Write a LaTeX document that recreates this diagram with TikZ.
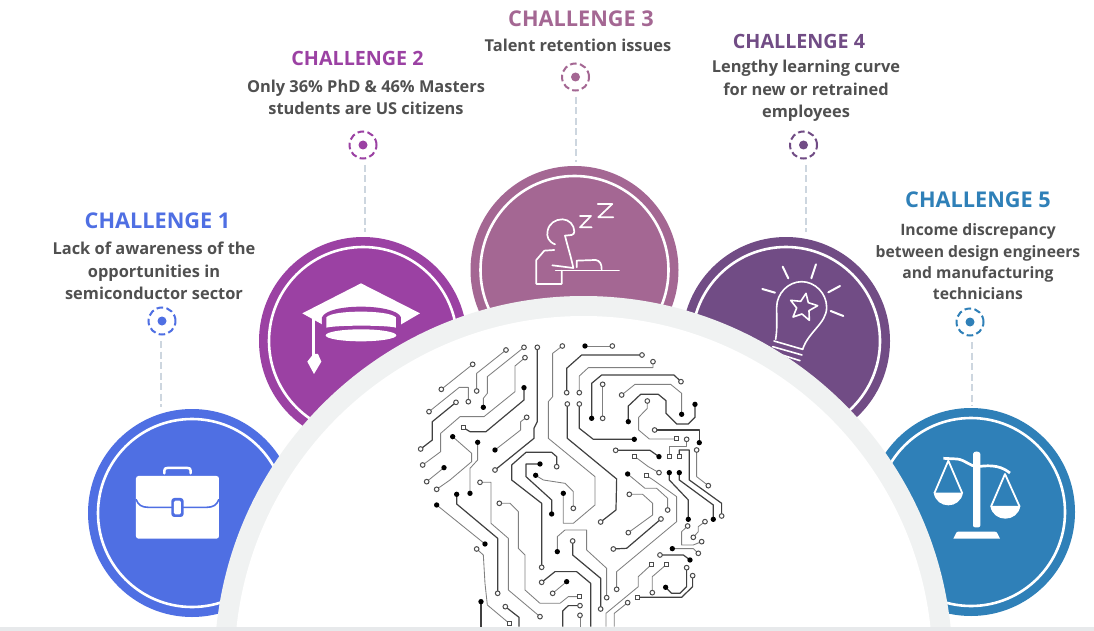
\documentclass[tikz,border=0pt]{standalone}
\usepackage{fontspec}
\setmainfont{Open Sans}
\definecolor{cA}{HTML}{4F6FE3}
\definecolor{cB}{HTML}{9B41A3}
\definecolor{cC}{HTML}{A46793}
\definecolor{cD}{HTML}{714C85}
\definecolor{cE}{HTML}{2F80B8}
\definecolor{halo}{HTML}{F0F2F2}
\definecolor{strip}{HTML}{E7E9EB}
\definecolor{dashc}{HTML}{CDD6DF}
\definecolor{bodyc}{HTML}{505050}
\tikzset{
  bigc/.style={circle,fill=#1,minimum size=208pt,inner sep=0pt},
  ringc/.style={circle,draw=white,line width=2.6pt,minimum size=188pt,inner sep=0pt},
  target/.style={circle,draw=#1,dash pattern=on 6.6pt off 3.4pt,line width=2pt,minimum size=27pt,inner sep=0pt},
  tdot/.style={circle,fill=#1,minimum size=9pt,inner sep=0pt},
  conn/.style={draw=dashc,line width=2pt,dash pattern=on 7pt off 3.5pt},
  title/.style={text=#1,font=\fontsize{21.7}{24}\selectfont\bfseries,inner sep=0pt,anchor=center},
  titlesm/.style={text=#1,font=\fontsize{19.7}{24}\selectfont\bfseries,inner sep=0pt,anchor=center},
  body/.style={text=bodyc,font=\fontsize{16.4}{22.5}\selectfont\bfseries,inner sep=0pt,align=center,anchor=center},
  tg/.style={draw=black!50,line width=0.85pt,line join=round},
  td/.style={draw=black!75,line width=1.2pt,line join=round},
  opad/.style={draw=black!70,fill=white,line width=1pt},
  bpad/.style={fill=black},
  ico/.style={draw=white,line width=#1,line cap=round,line join=round},
  ico/.default=1.7pt,
}
\begin{document}
\begin{tikzpicture}[x=1pt,y=-1pt]
\useasboundingbox (0,0) rectangle (1094,631);
\fill[white] (0,0) rectangle (1094,631);

% big coloured circles
\node[bigc=cA] (c1) at (192,513) {};
\node[bigc=cB] (c2) at (363,341) {};
\node[bigc=cC] (c3) at (574.5,270) {};
\node[bigc=cD] (c4) at (786,341) {};
\node[bigc=cE] (c5) at (971,512) {};
\foreach \n in {1,...,5} \node[ringc] (r\n) at (c\n) {};

% briefcase
\begin{scope}[shift={(80,400)},x=0.3333pt,y=-0.3333pt]
  \draw[ico=2.5pt] (253,220) -- (253,212) .. controls (253,206) and (256,204) .. (262,204) -- (323,204) .. controls (329,204) and (332,206) .. (332,212) -- (332,220);
  \fill[white,rounded corners=2.5pt] (168,228) rectangle (417,416);
  \draw[cA,line width=1.6pt] (168,298) .. controls (175,315) and (185,322) .. (205,322) -- (380,322) .. controls (400,322) and (410,315) .. (417,298);
  \fill[cA,rounded corners=3pt] (274,294) rectangle (311,351);
  \fill[white,rounded corners=1.5pt] (282,302) rectangle (303,343);
\end{scope}

% mortarboard
\begin{scope}[shift={(250,230)},x=0.3333pt,y=-0.3333pt]
  \fill[white] (157,250) -- (333,160) -- (510,250) -- (452,284) -- (218,284) -- cycle;
  \fill[cB] (216,305) -- (216,262) .. controls (225,240) and (280,230) .. (333,230) .. controls (385,230) and (445,240) .. (453,262) -- (453,305) -- cycle;
  \fill[white] (229,293) -- (229,262) .. controls (240,250) and (285,245) .. (333,245) .. controls (380,245) and (425,250) .. (438,262) -- (438,293) .. controls (410,285) and (260,285) .. (229,293) -- cycle;
  \fill[white] (333,316) ellipse [x radius=106,y radius=18];
  \draw[white,line width=2.6pt] (190,262) -- (190,378);
  \fill[white] (190,372) -- (172,395) -- (192,432) -- (214,395) -- (204,372) -- cycle;
\end{scope}

% sleeper
\begin{scope}[shift={(465,60)},x=0.3333pt,y=-0.3333pt]
  \draw[ico] (398,432) -- (442,432) -- (400,472) -- (445,472);
  \draw[ico] (345,468) -- (378,468) -- (345,502) -- (380,502);
  \draw[ico] (270,553) .. controls (250,545) and (244,530) .. (248,512) .. controls (252,490) and (272,478) .. (292,478) .. controls (312,478) and (328,495) .. (328,515) .. controls (328,520) and (325,524) .. (320,525) -- (300,527);
  \draw[ico] (300,527) .. controls (308,560) and (318,590) .. (325,624) -- (262,616);
  \draw[ico] (268,570) -- (238,572) -- (214,600) -- (214,672) -- (290,672) -- (290,632);
  \draw[ico] (272,632) -- (462,632);
  \draw[ico] (335,622) -- (335,602) -- (392,600) .. controls (405,602) and (410,612) .. (410,628);
\end{scope}

% light bulb
\begin{scope}[shift={(680,230)},x=0.3333pt,y=-0.3333pt]
  \draw[ico=1.6pt] (287,328) .. controls (292,295) and (290,275) .. (290,232) .. controls (290,190) and (325,155) .. (365,155) .. controls (405,155) and (440,190) .. (440,232) .. controls (440,280) and (385,305) .. (368,358);
  \draw[ico=1.6pt] (378,190) -- (385,218) -- (413,227) -- (387,242) -- (388,271) -- (366,252) -- (339,261) -- (350,234) -- (332,211) -- (362,214) -- cycle;
  \draw[ico=2pt] (308,110) -- (325,145);
  \draw[ico=2pt] (408,103) -- (394,145);
  \draw[ico=2pt] (247,177) -- (285,188);
  \draw[ico=2pt] (480,168) -- (445,187);
  \draw[ico=2pt] (452,243) -- (490,258);
  \draw[ico=1.6pt] (282,333) -- (368,358);
  \draw[ico=1.6pt] (278,350) -- (366,375);
  \draw[ico=1.6pt] (278,366) -- (360,392);
\end{scope}

% scales
\begin{scope}[shift={(870,400)},x=0.3333pt,y=-0.3333pt]
  \fill[white,rounded corners=2pt] (309,382) -- (309,168) .. controls (309,152) and (331,152) .. (331,168) -- (331,382) -- cycle;
  \fill[white] (250,416) -- (258,400) .. controls (259,396) and (262,395) .. (266,395) -- (374,395) .. controls (378,395) and (381,396) .. (382,400) -- (390,416) -- cycle;
  \draw[white,line width=2.7pt,line join=round] (220,175) -- (262,177) .. controls (285,180) and (300,198) .. (320,200) .. controls (345,198) and (385,190) .. (420,219);
  \draw[white,line width=1.8pt,line join=round] (193,280) -- (235,182) -- (277,280);
  \fill[white] (191,278) -- (279,278) .. controls (275,303) and (255,316) .. (235,316) .. controls (215,316) and (195,303) .. (191,278) -- cycle;
  \draw[white,line width=1.8pt,line join=round] (363,320) -- (405,222) -- (449,320);
  \fill[white] (361,318) -- (451,318) .. controls (447,343) and (427,356) .. (406,356) .. controls (385,356) and (365,343) .. (361,318) -- cycle;
\end{scope}

% central dome
\fill[halo] (583.5,665) circle[radius=369];
\fill[white] (583.5,665) circle[radius=349];

% circuit head
\begin{scope}[shift={(400,330)},x=0.3333pt,y=-0.3333pt]
  % light traces
  \draw[tg] (487,48)--(458,70)--(458,200)--(445,215)--(445,325)--(585,440)--(585,525)--(520,580)--(490,580)--(490,490);
  \draw[tg] (555,48)--(637,48);
  \draw[tg] (759,95)--(759,113)--(565,113)--(538,138)--(538,188);
  \draw[tg] (608,163)--(608,265);
  \draw[tg] (665,195)--(705,163)--(812,163)--(845,190)--(845,253);
  \draw[tg] (742,213)--(742,235)--(716,262)--(716,300)--(748,327)--(830,327);
  \draw[tg] (860,328)--(860,348)--(808,348)--(808,380);
  \draw[tg] (705,380)--(745,410)--(777,428);
  \draw[tg] (683,432)--(735,475)--(770,475)--(803,505)--(803,540);
  \draw[tg] (740,437)--(760,450)--(830,500)--(830,575)--(650,725)--(650,778);
  \draw[tg] (890,360)--(890,440)--(925,467);
  \draw[tg] (318,60)--(230,130)--(230,183);
  \draw[tg] (372,52)--(262,140)--(262,190)--(250,205)--(250,232);
  \draw[tg] (218,103)--(124,178);
  \draw[tg] (87,245)--(178,172)--(205,172)--(205,215);
  \draw[tg] (375,83)--(345,108)--(345,185)--(252,260)--(180,260)--(122,310)--(122,365)--(68,405);
  \draw[tg] (380,262)--(362,275)--(362,300)--(285,360);
  \draw[tg] (158,320)--(215,370)--(215,395)--(150,450)--(110,478);
  \draw[tg] (132,413)--(80,455);
  \draw[tg] (233,337)--(233,390)--(210,415)--(210,490);
  \draw[tg] (407,436)--(430,450)--(495,460)--(520,485)--(520,535);
  \draw[tg] (240,457)--(273,457)--(273,580)--(325,625)--(325,780)--(420,860);
  \draw[tg] (298,520)--(330,520)--(355,545)--(355,655)--(375,675)--(375,780)--(420,820)--(480,820)--(505,800)--(540,800);
  \draw[tg] (110,525)--(255,642);
  \draw[tg] (230,657)--(250,675)--(255,760)--(262,825)--(330,882);
  \draw[tg] (472,665)--(472,620)--(495,600)--(560,600)--(560,660)--(620,715)--(620,803);
  \draw[tg] (500,755)--(458,790);
  \draw[tg] (540,856)--(540,890);
  \draw[tg] (688,493)--(728,493)--(758,520)--(758,555)--(685,608);
  \draw[tg] (863,588)--(845,605)--(845,645)--(880,645)--(905,635);
  \draw[tg] (915,575)--(895,590)--(895,605)--(880,622);
  \draw[tg] (817,656)--(880,656)--(895,670);
  \draw[tg] (755,703)--(715,740)--(715,770)--(618,850)--(618,890);
  \draw[tg] (800,703)--(757,740)--(757,788);
  \draw[tg] (683,818)--(643,850)--(643,890);
  % dark traces
  \draw[td] (412,52)--(412,275)--(402,295)--(402,325)--(285,420);
  \draw[td] (726,75)--(545,75)--(500,115)--(500,188);
  \draw[td] (843,155)--(822,135)--(605,135)--(575,160)--(575,265);
  \draw[td] (685,275)--(685,228)--(722,193)--(775,193)--(798,212)--(798,250)--(830,282)--(865,282)--(885,262)--(885,223);
  \draw[td] (764,300)--(898,300)--(898,338);
  \draw[td] (502,222)--(502,325)--(650,447)--(648,540)--(602,576);
  \draw[td] (538,222)--(538,295)--(580,328)--(703,328);
  \draw[td] (647,361)--(750,361)--(777,380);
  \draw[td] (838,380)--(838,360)--(868,360)--(868,450)--(965,520)--(965,558);
  \draw[td] (808,428)--(808,450)--(865,510)--(865,568);
  \draw[td] (838,428)--(838,450)--(940,525)--(940,568);
  \draw[td] (168,217)--(97,275)--(97,330)--(62,357);
  \draw[td] (372,173)--(372,210)--(258,305)--(210,305)--(190,293);
  \draw[td] (470,410)--(470,380)--(455,367)--(378,367)--(335,405)--(335,450)--(425,520)--(425,712);
  \draw[td] (420,402)--(378,402)--(378,440)--(455,510)--(455,552);
  \draw[td] (170,493)--(170,522)--(293,625)--(293,790);
  \draw[td] (243,815)--(243,890);
  \draw[td] (316,830)--(357,862)--(357,890);
  \draw[td] (518,633)--(518,675)--(602,745)--(602,837);
  \draw[td] (425,757)--(465,725)--(530,725)--(572,760)--(572,890);
  \draw[td] (540,827)--(505,827)--(488,843)--(488,890);
  \draw[td] (783,567)--(680,655)--(640,657);
  \draw[td] (780,675)--(850,675)--(870,690);
  \draw[td] (797,772)--(815,790)--(840,790)--(860,770)--(860,713);
  \draw[td] (878,737)--(878,770)--(845,802)--(712,802);
  % open pads
  \foreach \p in {(487,48),(637,48),(412,52),(285,420),(726,75),(500,188),(759,95),(538,188),(843,155),(608,163),(608,265),(665,195),(742,213),(764,300),(502,222),(538,222),(602,576),(647,361),(860,328),(777,428),(803,540),(650,778),(890,360),(925,467),(965,558),(318,60),(230,183),(372,52),(218,103),(124,178),(87,245),(205,215),(168,217),(62,357),(375,83),(68,405),(380,262),(110,478),(80,455),(470,410),(425,712),(520,535),(240,457),(420,860),(298,520),(293,790),(230,657),(316,830),(620,803),(518,633),(602,837),(425,757),(458,790),(540,827),(540,856),(688,493),(685,608),(783,567),(640,657),(863,588),(905,635),(915,575),(880,622),(895,670),(780,675),(757,788),(860,713),(878,737),(683,818)}
    \draw[opad] \p circle[radius=7];
  % square pads
  \foreach \p in {(830,327),(808,380),(838,380),(705,380),(740,437),(190,293),(540,800),(330,882),(755,703),(800,703),(712,802)}
    \draw[opad] \p ++(-6,-6) rectangle ++(12,12);
  % filled pads
  \foreach \p in {(555,48),(490,490),(575,265),(845,253),(685,275),(885,223),(898,338),(703,328),(777,380),(808,428),(838,428),(683,432),(865,568),(940,568),(250,232),(372,173),(285,360),(158,320),(132,413),(233,337),(210,490),(420,402),(407,436),(455,552),(170,493),(110,525),(255,642),(243,815),(472,665),(500,755),(817,656),(870,690),(797,772)}
    \fill[bpad] \p circle[radius=8];
\end{scope}

% bottom strip
\fill[strip] (0,627) rectangle (1094,631);

% target rings, dots, connector ends
\node[target=cA] (t1) at (162,321) {};
\node[target=cB] (t2) at (363,145) {};
\node[target=cC] (t3) at (575.5,77) {};
\node[target=cD] (t4) at (803.5,145) {};
\node[target=cE] (t5) at (970,322) {};
\node[tdot=cA] (d1) at (t1) {};
\node[tdot=cB] (d2) at (t2) {};
\node[tdot=cC] (d3) at (t3) {};
\node[tdot=cD] (d4) at (t4) {};
\node[tdot=cE] (d5) at (t5) {};
\coordinate (e1) at (161,407);
\coordinate (e2) at (365,232);
\coordinate (e3) at (576,162);
\coordinate (e4) at (806,232);
\coordinate (e5) at (972,406);
\foreach \n in {1,...,5}
  \draw[conn] ([yshift=-5.5pt]t\n.south -| e\n) -- (e\n);

% titles
\node[title=cA] (h1) at (157.5,221) {CHALLENGE 1};
\node[titlesm=cB] (h2) at (357.5,58) {CHALLENGE 2};
\node[title=cC] (h3) at (581,19) {CHALLENGE 3};
\node[titlesm=cD] (h4) at (799,41.5) {CHALLENGE 4};
\node[title=cE] (h5) at (978,200) {CHALLENGE 5};

% descriptions
\node[body] (b1) at (154,271) {Lack of awareness of the\\opportunities in\\semiconductor sector};
\node[body] (b2) at (366,97.5) {Only 36\% PhD \& 46\% Masters\\students are US citizens};
\node[body] (b3) at (578,45) {Talent retention issues};
\node[body] (b4) at (806,91) {Lengthy learning curve\\for new or retrained\\employees};
\node[body,font=\fontsize{15.7}{21.3}\selectfont\bfseries] (b5) at (978,262) {Income discrepancy\\between design engineers\\and manufacturing\\technicians};
\end{tikzpicture}
\end{document}
